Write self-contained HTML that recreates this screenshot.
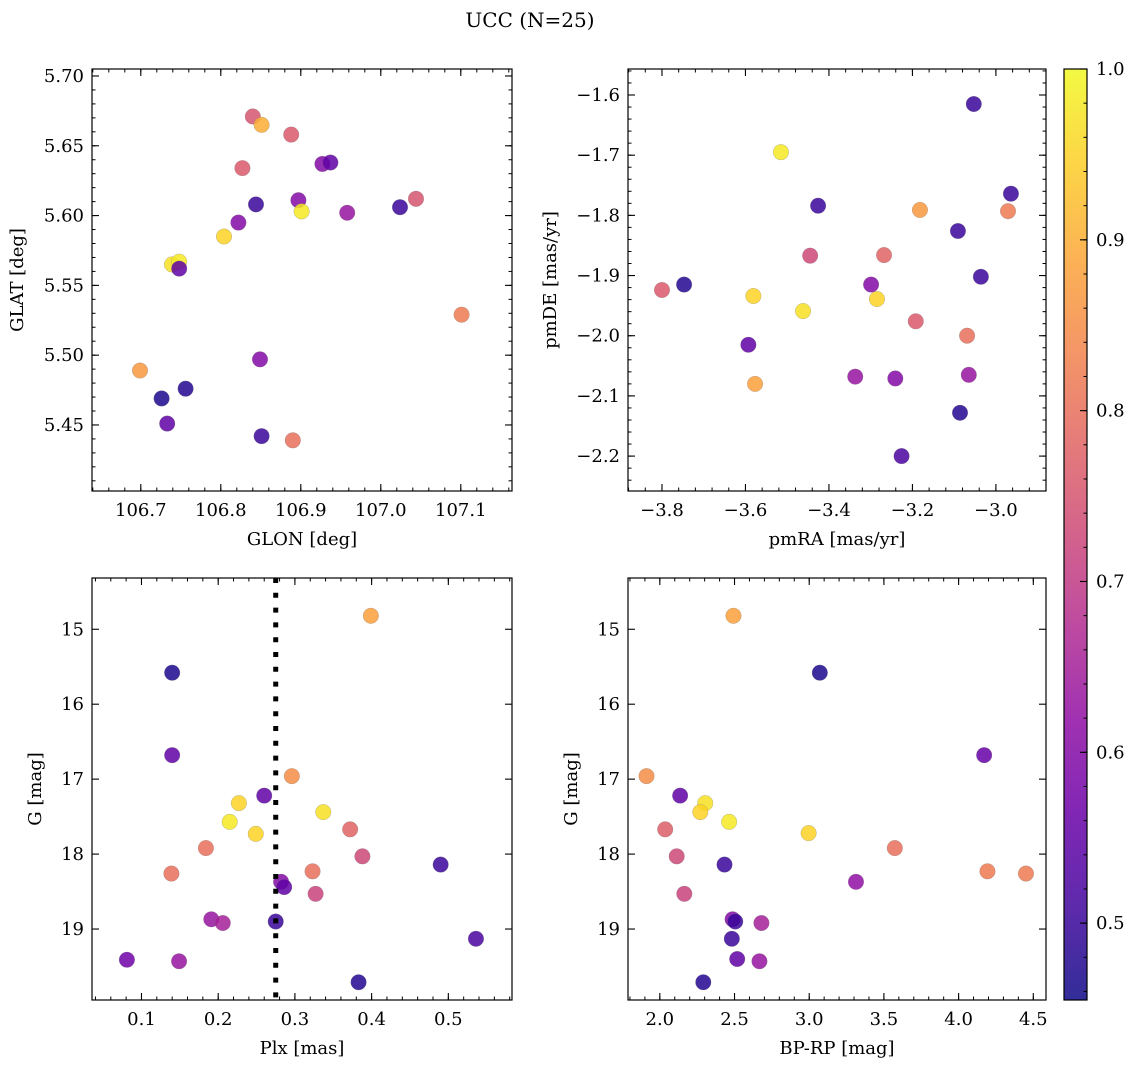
<!DOCTYPE html>
<html><head><meta charset="utf-8">
<style>
html,body{margin:0;padding:0;background:#fff;}
svg{display:block;font-family:"DejaVu Serif","Liberation Serif",serif;}
</style></head>
<body>
<svg id="fig" width="1136" height="1068" viewBox="0 0 1136 1068" xmlns="http://www.w3.org/2000/svg">
<defs>
<linearGradient id="plasma" x1="0" y1="1" x2="0" y2="0"></linearGradient>
</defs>
<text x="530" y="27" font-size="20" text-anchor="middle">UCC (N=25)</text>
</svg>
<script>
// ---- data ----
const glon = [106.840,106.851,106.888,106.827,106.927,106.937,106.844,106.897,106.901,106.958,107.024,107.044,106.822,106.804,106.739,106.748,106.748,107.101,106.849,106.699,106.756,106.726,106.733,106.851,106.890];
const glat = [5.671,5.665,5.658,5.634,5.637,5.638,5.608,5.611,5.603,5.602,5.606,5.612,5.595,5.585,5.565,5.567,5.562,5.529,5.497,5.489,5.476,5.469,5.451,5.442,5.439];
const c1 = [0.75,0.90,0.76,0.76,0.60,0.55,0.50,0.60,0.98,0.63,0.50,0.75,0.60,0.95,0.97,0.98,0.55,0.82,0.60,0.87,0.48,0.47,0.55,0.50,0.80];

const pmra = [-3.053,-3.515,-3.426,-2.964,-3.182,-2.971,-3.091,-3.445,-3.268,-3.036,-3.299,-3.747,-3.800,-3.581,-3.285,-3.462,-3.192,-3.069,-3.593,-3.337,-3.241,-3.065,-3.577,-3.086,-3.226];
const pmde = [-1.615,-1.695,-1.784,-1.764,-1.791,-1.793,-1.826,-1.867,-1.866,-1.902,-1.915,-1.915,-1.924,-1.934,-1.939,-1.959,-1.976,-2.000,-2.015,-2.068,-2.071,-2.065,-2.080,-2.128,-2.200];
const c2 = [0.50,0.98,0.50,0.50,0.87,0.82,0.50,0.73,0.78,0.50,0.60,0.48,0.76,0.95,0.95,0.97,0.76,0.80,0.55,0.63,0.60,0.63,0.88,0.48,0.52];

const plx = [0.399,0.140,0.140,0.296,0.260,0.227,0.337,0.215,0.249,0.372,0.184,0.388,0.490,0.139,0.323,0.282,0.286,0.327,0.191,0.206,0.275,0.536,0.081,0.149,0.383];
const gmag3 = [14.82,15.58,16.68,16.96,17.22,17.32,17.44,17.57,17.73,17.67,17.92,18.03,18.14,18.26,18.23,18.37,18.44,18.53,18.87,18.92,18.90,19.13,19.41,19.43,19.71];
const c3 = [0.88,0.47,0.55,0.85,0.55,0.95,0.97,0.98,0.95,0.78,0.80,0.73,0.50,0.80,0.80,0.60,0.55,0.72,0.63,0.65,0.50,0.52,0.57,0.63,0.48];
const plxRef = [0.275];

const bprp = [2.493,3.071,4.171,1.911,2.136,2.304,2.271,2.464,2.996,2.036,3.573,2.113,2.433,4.451,4.193,3.313,2.164,2.487,2.505,2.680,2.482,2.518,2.667,2.291];
const gmag4 = [14.82,15.58,16.68,16.96,17.22,17.32,17.44,17.57,17.72,17.67,17.92,18.03,18.14,18.26,18.23,18.37,18.53,18.87,18.90,18.92,19.13,19.40,19.43,19.71];
const c4 = [0.88,0.47,0.56,0.85,0.55,0.97,0.95,0.98,0.95,0.77,0.80,0.73,0.50,0.82,0.82,0.62,0.72,0.60,0.50,0.65,0.50,0.55,0.63,0.48];

const cbTicks = [0.5,0.6,0.7,0.8,0.9,1.0];

// ---- helpers ----
const NS='http://www.w3.org/2000/svg';
const svg=document.getElementById('fig');
const FS=18;
function mk(tag,attrs,parent){const e=document.createElementNS(NS,tag);for(const k in attrs)e.setAttribute(k,attrs[k]);(parent||svg).appendChild(e);return e;}
const stops=[[0,'#0d0887'],[0.1,'#41049d'],[0.2,'#6a00a8'],[0.3,'#8f0da4'],[0.4,'#b12a90'],[0.5,'#cc4778'],[0.6,'#e16462'],[0.7,'#f2844b'],[0.8,'#fca636'],[0.9,'#fcce25'],[1,'#f0f921']];
function hex(h){return [1,3,5].map(i=>parseInt(h.substr(i,2),16));}
function plasma(t){t=Math.max(0,Math.min(1,t));for(let i=1;i<stops.length;i++){if(t<=stops[i][0]){const a=stops[i-1],b=stops[i];const f=(t-a[0])/(b[0]-a[0]);const A=hex(a[1]),B=hex(b[1]);return 'rgb('+A.map((v,j)=>Math.round(v+(B[j]-v)*f)).join(',')+')';}}return stops[10][1];}
const VMIN=0.455,VMAX=1.0;
function cmap(v){return plasma((v-VMIN)/(VMAX-VMIN));}
function fmt(v,d){return (v<0?'\u2212':'')+Math.abs(v).toFixed(d);}

function panel(name,box,xd,yd,xt,yt,xminor,yminor,xdec,ydec,xlabel,ylabel,ylabelX,xs,ys,cs){
  const g=mk('g',{});
  
  
  const X=v=>box.x0+(v-xd[0])/(xd[1]-xd[0])*(box.x1-box.x0);
  const Y=v=>box.y1-(v-yd[0])/(yd[1]-yd[0])*(box.y1-box.y0);
  for(let i=0;i<xs.length;i++){
    const p=mk('circle',{cx:X(xs[i]),cy:Y(ys[i]),r:7.8,fill:cmap(cs[i]),'fill-opacity':0.85,stroke:'#777','stroke-width':0.4,'stroke-opacity':0.6},g);
    
    
  }
  const fr=mk('rect',{x:box.x0,y:box.y0,width:box.x1-box.x0,height:box.y1-box.y0,fill:'none',stroke:'#000','stroke-width':1.2},g);
  
  
  const eps=1e-9;
  for(let v=Math.ceil(xd[0]/xminor)*xminor;v<=xd[1]+eps;v+=xminor){const x=X(v);mk('line',{x1:x,x2:x,y1:box.y1,y2:box.y1-3.5,stroke:'#000','stroke-width':1},g);mk('line',{x1:x,x2:x,y1:box.y0,y2:box.y0+3.5,stroke:'#000','stroke-width':1},g);}
  for(let v=Math.ceil(yd[0]/yminor)*yminor;v<=yd[1]+eps;v+=yminor){const y=Y(v);mk('line',{x1:box.x0,x2:box.x0+3.5,y1:y,y2:y,stroke:'#000','stroke-width':1},g);mk('line',{x1:box.x1,x2:box.x1-3.5,y1:y,y2:y,stroke:'#000','stroke-width':1},g);}
  xt.forEach(v=>{const x=X(v);mk('line',{x1:x,x2:x,y1:box.y1,y2:box.y1-7,stroke:'#000','stroke-width':1.1},g);mk('line',{x1:x,x2:x,y1:box.y0,y2:box.y0+7,stroke:'#000','stroke-width':1.1},g);
    const t=mk('text',{x:x,y:box.y1+25,'font-size':FS,'text-anchor':'middle'},g);t.textContent=fmt(v,xdec);
    
    });
  yt.forEach(v=>{const y=Y(v);mk('line',{x1:box.x0,x2:box.x0+7,y1:y,y2:y,stroke:'#000','stroke-width':1.1},g);mk('line',{x1:box.x1,x2:box.x1-7,y1:y,y2:y,stroke:'#000','stroke-width':1.1},g);
    const t=mk('text',{x:box.x0-8,y:y+6,'font-size':FS,'text-anchor':'end'},g);t.textContent=fmt(v,ydec);
    
    });
  const xl=mk('text',{x:(box.x0+box.x1)/2,y:box.y1+54,'font-size':FS,'text-anchor':'middle'},g);xl.textContent=xlabel;
  
  
  const cy=(box.y0+box.y1)/2;
  const yl=mk('text',{x:ylabelX,y:cy,'font-size':FS,'text-anchor':'middle',transform:'rotate(-90 '+ylabelX+' '+cy+')'},g);yl.textContent=ylabel;
  
  
  return {g,X,Y};
}

const p1=panel('panel-glon-glat',{x0:92,x1:512,y0:69,y1:491},[106.639,107.164],[5.4027,5.705],[106.7,106.8,106.9,107.0,107.1],[5.45,5.50,5.55,5.60,5.65,5.70],0.02,0.01,1,2,'GLON [deg]','GLAT [deg]',23,glon,glat,c1);
const p2=panel('panel-pm',{x0:628,x1:1046,y0:69,y1:491},[-3.8814,-2.880],[-2.258,-1.5568],[-3.8,-3.6,-3.4,-3.2,-3.0],[-2.2,-2.1,-2.0,-1.9,-1.8,-1.7,-1.6],0.04,0.02,1,1,'pmRA [mas/yr]','pmDE [mas/yr]',556,pmra,pmde,c2);
const p3=panel('panel-plx-g',{x0:92,x1:512,y0:578,y1:1000},[0.0355,0.583],[19.947,14.316],[0.1,0.2,0.3,0.4,0.5],[15,16,17,18,19],0.02,0.2,1,0,'Plx [mas]','G [mag]',41,plx,gmag3,c3);
const p4=panel('panel-bprp-g',{x0:628,x1:1046,y0:578,y1:1000},[1.787,4.585],[19.947,14.316],[2.0,2.5,3.0,3.5,4.0,4.5],[15,16,17,18,19],0.1,0.2,1,0,'BP-RP [mag]','G [mag]',577,bprp,gmag4,c4);

const rl=mk('line',{x1:p3.X(plxRef[0]),x2:p3.X(plxRef[0]),y1:578,y2:1000,stroke:'#000','stroke-width':5,'stroke-dasharray':'5 9.8'});



const grad=document.getElementById('plasma');
for(let i=0;i<=20;i++){const t=i/20;const v=VMIN+t*(VMAX-VMIN);mk('stop',{offset:t,'stop-color':cmap(v),'stop-opacity':0.85},grad);}
const cb={x0:1064,x1:1087,y0:69,y1:1000};
const CY=v=>cb.y1-(v-VMIN)/(VMAX-VMIN)*(cb.y1-cb.y0);
const cbr=mk('rect',{x:cb.x0,y:cb.y0,width:cb.x1-cb.x0,height:cb.y1-cb.y0,fill:'url(#plasma)',stroke:'#000','stroke-width':1.2});


for(let v=0.46;v<=1.0001;v+=0.02){const y=CY(v);mk('line',{x1:cb.x1,x2:cb.x1-3.5,y1:y,y2:y,stroke:'#000','stroke-width':1});}
cbTicks.forEach(v=>{const y=CY(v);mk('line',{x1:cb.x1,x2:cb.x1-7,y1:y,y2:y,stroke:'#000','stroke-width':1.1});
  const t=mk('text',{x:cb.x1+9,y:y+6,'font-size':FS});t.textContent=v.toFixed(1);
  
  });
</script>
</body></html>
